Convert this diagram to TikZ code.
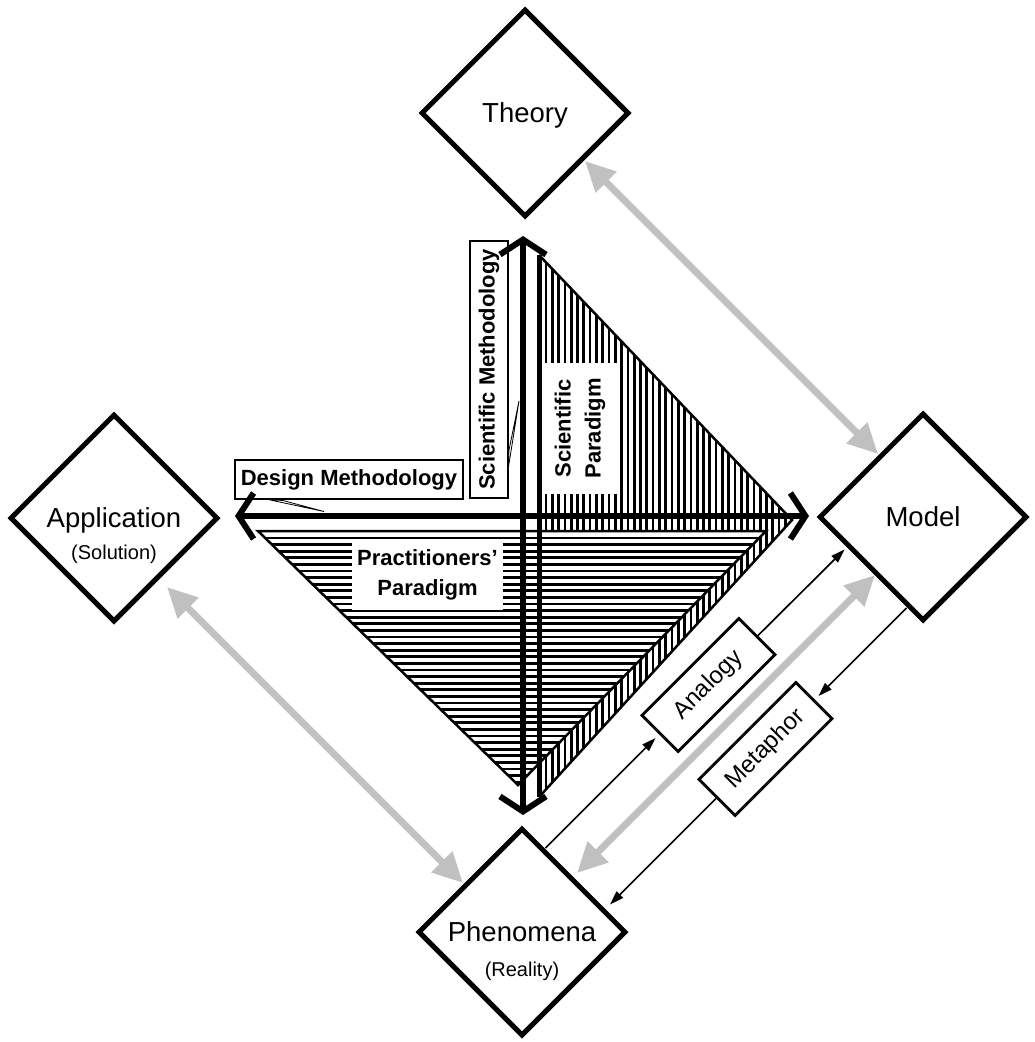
\documentclass[tikz,border=0pt]{standalone}
\usepackage{fontspec}
\setmainfont{Liberation Sans}
\usetikzlibrary{shapes.geometric,arrows.meta,calc}
\definecolor{silvergray}{RGB}{192,192,192}
\begin{document}
\begin{tikzpicture}[x=1pt,y=-1pt,
  concept/.style={diamond, draw, line width=5pt, fill=white,
    minimum width=208pt, minimum height=208pt, inner sep=0pt,
    text height=19pt, text depth=0pt, font=\fontsize{27.5}{30}\selectfont},
  subtitle/.style={inner sep=0pt, anchor=base, font=\fontsize{20}{22}\selectfont},
  tag/.style={draw, line width=1.8pt, fill=white, inner sep=0pt,
    font=\bfseries\fontsize{22}{26}\selectfont},
  paradigm/.style={fill=white, inner sep=0pt, align=center,
    font=\bfseries\fontsize{22}{30}\selectfont},
  relbox/.style={draw, line width=2.8pt, fill=white, rotate=45,
    minimum width=137pt, minimum height=51pt, inner sep=0pt,
    font=\fontsize{24}{26}\selectfont},
  grayarrow/.style={draw=silvergray, line width=7pt,
    arrows={Triangle[length=30pt,width=28pt]-Triangle[length=30pt,width=28pt]}},
  relarrow/.style={line width=1.7pt, shorten >=5pt,
    arrows={-Triangle[length=14pt,width=9pt]}},
  crossaxis/.style={line width=6.5pt,
    arrows={Straight Barb[length=15pt,width=46pt,line width=6pt]-Straight Barb[length=15pt,width=46pt,line width=6pt]}},
  hatchline/.style={line width=2.7pt},
  triedge/.style={line width=2.5pt, line join=miter},
  pointer/.style={line width=0.8pt, fill=white}
]
\useasboundingbox[fill=white] (0,0) rectangle (1034,1042);

% corner points of the two paradigm triangles
\coordinate (S1) at (539,255);
\coordinate (S2) at (539,797);
\coordinate (S3) at (792,520);
\coordinate (P1) at (258,531);
\coordinate (P2) at (766,531);
\coordinate (P3) at (518,785);

% scientific paradigm: vertical hatching
\begin{scope}
  \clip (S1) -- (S2) -- (S3) -- cycle;
  \fill[white] (S1) -- (S2) -- (S3) -- cycle;
  \foreach \k in {0,...,42} {
    \draw[hatchline] (546+\k*6.3,250) -- (546+\k*6.3,800);
  }
\end{scope}
\draw[triedge] (S1) -- (S3) -- (S2);

% practitioners' paradigm: horizontal hatching
\begin{scope}
  \clip (P1) -- (P2) -- (P3) -- cycle;
  \fill[white] (P1) -- (P2) -- (P3) -- cycle;
  \foreach \k in {0,...,40} {
    \draw[hatchline] (250,538+\k*6.6) -- (800,538+\k*6.6);
  }
\end{scope}
\draw[triedge] (P2) -- (P1) -- (P3) -- cycle;
\draw[line width=5pt] (S1) -- (S2);

% paradigm labels
\node[paradigm, rotate=90, minimum width=131pt, minimum height=74pt]
  (sciparadigm) at (580,428.5) {Scientific\\Paradigm};
\node[paradigm, minimum width=151pt, minimum height=70pt]
  (pracparadigm) at (427.5,575) {Practitioners’\\Paradigm};

% methodology labels with their pointers
\node[tag, minimum width=228pt, minimum height=39pt] (designm) at (349,479.5) {Design Methodology};
\draw[pointer] ($(designm.center)+(-81,20)$) -- ($(designm.center)+(-25,32)$) -- ($(designm.center)+(-66,21)$) -- cycle;
\node[tag, rotate=90, minimum width=257pt, minimum height=38pt] (scim) at (489,369.5) {Scientific Methodology};
\draw[pointer] ($(scim.center)+(19,100.5)$) -- ($(scim.center)+(30,31.5)$) -- ($(scim.center)+(20,80.5)$) -- cycle;

% the methodology cross
\coordinate (axL) at (235,516);
\coordinate (axR) at (809,516);
\coordinate (axT) at (523,236);
\coordinate (axB) at (523,815);
\draw[crossaxis] (axL) -- (axR);
\draw[crossaxis] (axB) -- (axT);

% the four concepts
\node[concept] (theory) at (525,113) {Theory};
\node[concept] (app) at (114,518) {Application};
\node[subtitle] (appsub) at ($(app.center)+(0,41)$) {(Solution)};
\node[concept] (model) at (923,517) {Model};
\node[concept] (phen) at (522,932) {Phenomena};
\node[subtitle] (phensub) at ($(phen.center)+(0,44)$) {(Reality)};

% analogy and metaphor
\node[relbox] (analogy) at (708.5,685) {Analogy};
\node[relbox] (metaphor) at (765.5,749) {Metaphor};

% grey two-way links
\draw[grayarrow] ($(theory.center)+(60,48)$) -- ($(model.center)+(-45,-63)$);
\draw[grayarrow] ($(app.center)+(53,69)$) -- ($(phen.center)+(-59,-49)$);
\draw[grayarrow] ($(model.center)+(-48,58)$) -- ($(phen.center)+(55,-59)$);

% black links through analogy and metaphor
\draw[relarrow] ($(phen.center)+(23.5,-84)$) -- (analogy.west);
\draw[relarrow, shorten >=2pt] (analogy.east) -- ($(model.center)+(-77,31)$);
\draw[relarrow] ($(model.center)+(-16.5,91)$) -- (metaphor.east);
\draw[relarrow, shorten >=0pt] (metaphor.west) -- ($(phen.center)+(88,-27.5)$);
\end{tikzpicture}
\end{document}
